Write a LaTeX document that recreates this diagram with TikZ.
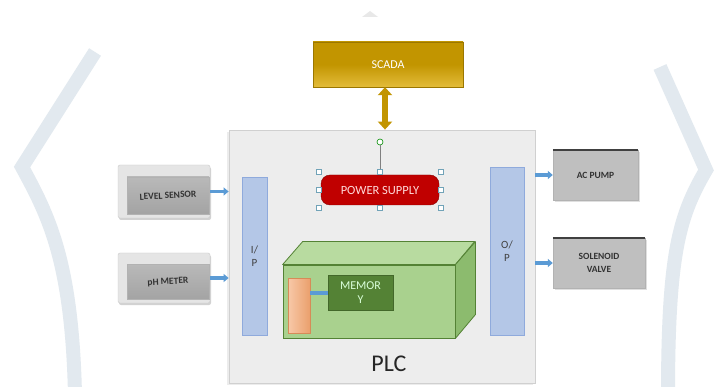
\documentclass[tikz,border=0pt]{standalone}
\usepackage{fontspec}
\setmainfont{Carlito}
\usetikzlibrary{arrows.meta,shadows,calc}
\definecolor{wmc}{HTML}{E2E9EF}
\definecolor{plcfill}{HTML}{EDEDED}
\definecolor{plcdraw}{HTML}{D0D0D0}
\definecolor{gold}{HTML}{C29500}
\definecolor{goldlt}{HTML}{E3BC3A}
\definecolor{psred}{HTML}{C00000}
\definecolor{barfill}{HTML}{B4C7E7}
\definecolor{bardraw}{HTML}{8FAADC}
\definecolor{gfront}{HTML}{A9D18E}
\definecolor{gtop}{HTML}{B8DBA0}
\definecolor{gside}{HTML}{8CBB6E}
\definecolor{gdark}{HTML}{548235}
\definecolor{orng}{HTML}{F4B183}
\definecolor{orngd}{HTML}{C55A11}
\definecolor{arrblue}{HTML}{5B9BD5}
\definecolor{boxgray}{HTML}{BFBFBF}
\definecolor{txtgray}{HTML}{404040}
\tikzset{
  wm/.style={draw=wmc, line width=14pt},
  plcbox/.style={draw=plcdraw, fill=plcfill, line width=0.8pt, drop shadow={shadow xshift=-2pt, shadow yshift=-2pt, opacity=0.15}},
  scadabox/.style={draw=gold!80!black, top color=gold, bottom color=goldlt, middle color=gold, text=white, font=\fontsize{12}{13}\selectfont},
  goldarr/.style={draw=gold, line width=6pt, {Triangle[width=14pt,length=8pt]}-{Triangle[width=14pt,length=8pt]}},
  psbox/.style={fill=psred, draw=psred!70!black, rounded corners=9pt, text=red!15, font=\fontsize{12.5}{13}\selectfont},
  handle/.style={draw=cyan!40!gray, fill=white, line width=0.5pt, inner sep=0pt, minimum size=5pt},
  iobar/.style={draw=bardraw, fill=barfill, align=center, text=txtgray, font=\fontsize{11}{13}\selectfont},
  membox/.style={fill=gdark, draw=gdark!80!black, text=white!85!green, align=center, font=\fontsize{12}{14}\selectfont},
  orbox/.style={left color=orng!70, right color=orng!80!orngd, draw=orngd!70},
  sensorbox/.style={fill=gray!20, draw=gray!40, rounded corners=2pt, drop shadow={shadow xshift=1pt, shadow yshift=-2pt, opacity=0.35}},
  sensorface/.style={top color=gray!55, bottom color=gray!72, draw=gray!60, text=black!80, font=\bfseries\fontsize{9.5}{10}\selectfont, align=center},
  outbox/.style={fill=boxgray, draw=gray!60, text=black!80, align=center, font=\bfseries\fontsize{9.5}{13}\selectfont, drop shadow={shadow xshift=2pt, shadow yshift=-2pt, opacity=0.25}},
  bluearr/.style={draw=arrblue, line width=3.5pt, -{Triangle[width=8pt,length=5pt]}},
}
\begin{document}
\begin{tikzpicture}[x=1pt,y=-1pt]
\useasboundingbox (0,0) rectangle (717,387);
\fill[white] (0,0) rectangle (717,387);
% watermark
\draw[wm] (95,52) -- (22,167) .. controls (48,215) and (72,260) .. (75,395);
\draw[wm] (660,67) -- (706,170) .. controls (680,215) and (668,250) .. (668,395);
\fill[gray!18] (362,17) -- (370,11) -- (378,17) -- cycle;
% PLC
\node[plcbox, minimum width=306, minimum height=253, inner sep=0] (plc) at (382,256.5) {};
\node[font=\fontsize{24}{26}\selectfont, text=black!85] (plclabel) at (389,364) {PLC};
% SCADA
\node[scadabox, minimum width=150, minimum height=45, inner sep=0] (scada) at (388,64.5) {SCADA};
\draw[goldarr] ([xshift=-3pt]scada.south) -- ([xshift=-3pt]scada.south |- plc.north);
% power supply
\node[psbox, minimum width=118, minimum height=30, inner sep=0] (ps) at (380,190) {POWER SUPPLY};
\node[minimum width=122, minimum height=36, inner sep=0] (psh) at (380,190) {};
\node[circle, draw=green!55!black, fill=white, line width=0.6pt, inner sep=0, minimum size=6pt] (rot) at (380,142) {};
\draw[gray, line width=0.6pt] (rot) -- (psh.north);
\foreach \a [count=\i] in {north west,north,north east,east,south east,south,south west,west}
  \node[handle] (h\i) at (psh.\a) {};
% I/O bars
\node[iobar, minimum width=25, minimum height=158, inner sep=0] (ip) at (254.5,256) {I/\\P};
\node[iobar, minimum width=34, minimum height=168, inner sep=0] (op) at (507,251) {O/\\P};
% cuboid
\node[fill=gfront, draw=gdark, line width=0.8pt, minimum width=172, minimum height=73, inner sep=0] (cpu) at (369,301.5) {};
\draw[fill=gtop, draw=gdark, line width=0.8pt, line join=round] (cpu.north west) -- ++(20,-23) -- ++(172,0) -- (cpu.north east) -- cycle;
\draw[fill=gside, draw=gdark, line width=0.8pt, line join=round] (cpu.north east) -- ++(20,-23) -- ++(0,73) -- (cpu.south east) -- cycle;
\node[orbox, minimum width=22, minimum height=55, inner sep=0] (orb) at (299,305.5) {};
\node[membox, minimum width=65, minimum height=35, inner sep=0] (mem) at (360.5,292.5) {MEMOR\\Y};
\draw[draw=arrblue, line width=4pt] (orb.east |- mem.west) -- (mem.west);
% inputs
\node[sensorbox, minimum width=92, minimum height=53, inner sep=0] (ls) at (164,191.5) {};
\node[sensorface, minimum width=82, minimum height=37, inner sep=0] (lsf) at (168,195.5) {\rotatebox{3}{LEVEL SENSOR}};
\node[sensorbox, minimum width=92, minimum height=50, inner sep=0] (ph) at (164,278) {};
\node[sensorface, minimum width=82, minimum height=35, inner sep=0] (phf) at (168,282) {\rotatebox{3}{pH METER}};
\draw[bluearr] (ls.east) -- (ls.east -| plc.west);
\draw[bluearr] (ph.east) -- (ph.east -| plc.west);
% outputs
\node[outbox, minimum width=85, minimum height=50, inner sep=0] (ac) at (595.5,175) {AC PUMP};
\draw[txtgray, line width=2.5pt] (ac.north west) -- (ac.north east);
\node[outbox, minimum width=92, minimum height=50, inner sep=0] (sv) at (599,263) {SOLENOID\\VALVE};
\draw[txtgray, line width=2.5pt] (sv.north west) -- (sv.north east);
\draw[bluearr] (ac.west -| plc.east) -- (ac.west);
\draw[bluearr] (sv.west -| plc.east) -- (sv.west);
\end{tikzpicture}
\end{document}
